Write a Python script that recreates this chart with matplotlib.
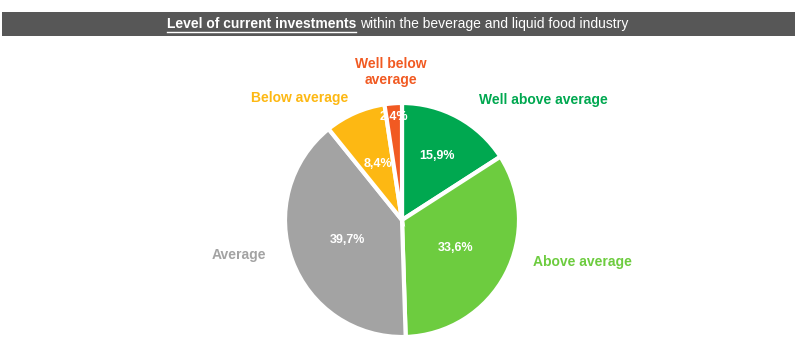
import matplotlib.pyplot as plt
import numpy as np

labels = ["Well above average", "Above average", "Average", "Below average", "Well below\naverage"]
shares = [15.9, 33.6, 39.7, 8.4, 2.4]
pct_text = ["15,9%", "33,6%", "39,7%", "8,4%", "2,4%"]
colors = ["#00A850", "#6DCC3F", "#A3A3A3", "#FDB813", "#F15A22"]

plt.rcParams["font.family"] = ["Liberation Sans", "DejaVu Sans"]

fig = plt.figure(figsize=(8, 3.47), dpi=100)

# dark title bar
bar = fig.add_axes([2 / 800, 1 - 36 / 347, 793 / 800, 24 / 347])
bar.set_facecolor("#575757")
bar.set_xticks([])
bar.set_yticks([])
for s in bar.spines.values():
    s.set_visible(False)

t1 = fig.text(167 / 800, 1 - 24 / 347, "Level of current investments", color="white",
              fontsize=10, fontweight="bold", va="center", ha="left")
fig.canvas.draw()
r = fig.canvas.get_renderer()
bb = t1.get_window_extent(r)
fig.text(bb.x1 / 800 + 4 / 800, 1 - 24 / 347, "within the beverage and liquid food industry",
         color="white", fontsize=10, va="center", ha="left")
fig.lines.append(plt.Line2D([bb.x0 / 800, bb.x1 / 800], [(bb.y0 - 1.0) / 347] * 2,
                            color="white", lw=1, transform=fig.transFigure))

# pie
ax = fig.add_axes([(402 - 117) / 800, (347 - 337) / 347, 234 / 800, 234 / 347])
wedges, _ = ax.pie(shares, colors=colors, startangle=90, counterclock=False, radius=1,
                   wedgeprops=dict(edgecolor="white", linewidth=3))
ax.set_xlim(-1, 1)
ax.set_ylim(-1, 1)
ax.set_aspect("equal")
ax.axis("off")

pct_dist = [0.62, 0.52, 0.50, 0.52, 0.88]
for w, t, d in zip(wedges, pct_text, pct_dist):
    ang = np.deg2rad((w.theta1 + w.theta2) / 2)
    ax.text(d * np.cos(ang), d * np.sin(ang), t, color="white", fontsize=9,
            fontweight="bold", ha="center", va="center")

# category labels outside the pie
label_pos = [(543, 100), (582, 262), (239, 255), (300, 98), (391, 72)]
for lab, c, (px, py) in zip(labels, colors, label_pos):
    fig.text(px / 800, 1 - py / 347, lab, color=c, fontsize=10, fontweight="bold",
             ha="center", va="center", linespacing=1.2)

fig.savefig("out.png", dpi=100)
